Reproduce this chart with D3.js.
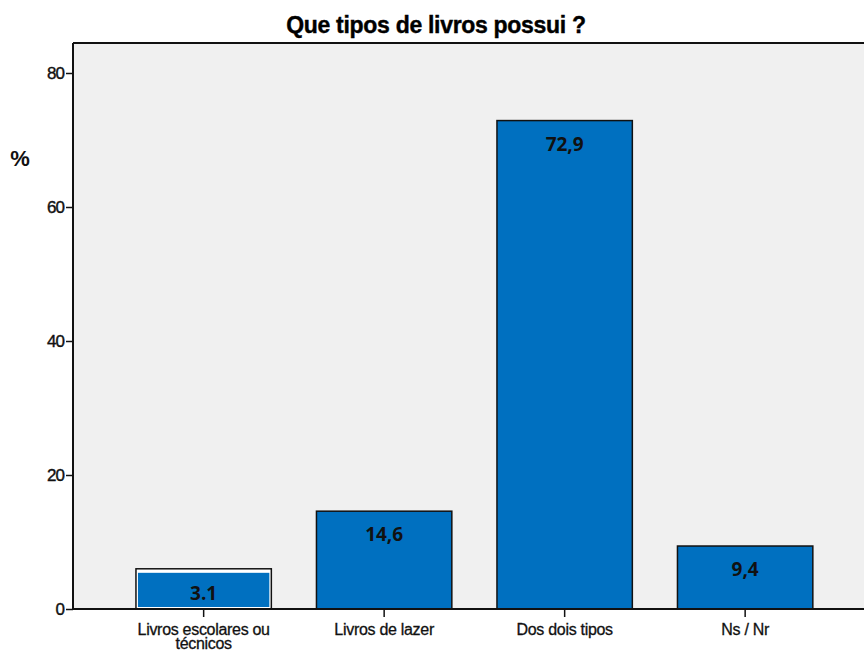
<!DOCTYPE html>
<html lang="pt">
<head>
  <meta charset="utf-8" />
  <title>Que tipos de livros possui ?</title>
  <style>
    body { margin: 0; background: #fff; }
    .tick text { font-family: "Liberation Sans", Arial, sans-serif; }
  </style>
  <script src="https://d3js.org/d3.v7.min.js"></script>
</head>
<body>
<script>
// chart values
const categories = [["Livros escolares ou", "técnicos"], ["Livros de lazer"], ["Dos dois tipos"], ["Ns / Nr"]];
const barValues  = [6.0, 14.6, 72.9, 9.4];
const barLabels  = ["3.1", "14,6", "72,9", "9,4"];
const patchValue = 5.4;      // blue block painted inside the first bar
const yTicks     = [0, 20, 40, 60, 80];

const W = 864, H = 652;
const plot = {left: 73, top: 43, right: 864, bottom: 609};

const svg = d3.select("body").append("svg")
  .attr("width", W).attr("height", H);

// plot background
svg.append("rect")
  .attr("x", plot.left).attr("y", plot.top)
  .attr("width", plot.right - plot.left).attr("height", plot.bottom - plot.top)
  .attr("fill", "#f0f0f0");

const x = d3.scaleBand()
  .domain(d3.range(categories.length))
  .range([113.4, 835.4])
  .paddingInner(0.25).paddingOuter(0.125);

const y = d3.scaleLinear().domain([0, 80]).range([plot.bottom, 73]);

// bars
svg.selectAll("rect.bar")
  .data(barValues)
  .join("rect")
    .attr("class", "bar")
    .attr("x", (d, i) => x(i))
    .attr("y", d => y(d))
    .attr("width", x.bandwidth())
    .attr("height", d => y(0) - y(d))
    .attr("fill", (d, i) => i === 0 ? "#ffffff" : "#0070c0")
    .attr("stroke", "#111")
    .attr("stroke-width", 1.5);

// the blue block over the first bar
svg.append("rect")
  .attr("x", x(0) + 2).attr("y", y(patchValue))
  .attr("width", x.bandwidth() - 4)
  .attr("height", y(0) - y(patchValue) - 2)
  .attr("fill", "#0070c0");

// value labels
svg.selectAll("text.val")
  .data(barValues)
  .join("text")
    .attr("class", "val")
    .attr("x", (d, i) => x(i) + x.bandwidth() / 2)
    .attr("y", (d, i) => i === 0 ? y(patchValue) + 27 : y(d) + 30)
    .attr("text-anchor", "middle")
    .attr("font-family", "'Open Sans', 'Noto Sans', sans-serif")
    .attr("font-weight", "bold")
    .attr("font-size", 19)
    .attr("fill", "#111")
    .text((d, i) => barLabels[i]);

// y axis
const yAxis = svg.append("g")
  .attr("transform", `translate(${plot.left},0)`)
  .call(d3.axisLeft(y).tickValues(yTicks).tickSize(7).tickPadding(2).tickFormat(d3.format("d")));
yAxis.select(".domain").attr("d", `M0,${plot.top}V${plot.bottom}`).attr("stroke", "#111").attr("stroke-width", 2);
yAxis.selectAll(".tick line").attr("stroke", "#111").attr("stroke-width", 1.5);
yAxis.selectAll(".tick text")
  .attr("font-size", 17).attr("fill", "#111").attr("letter-spacing", -1)
  .attr("stroke", "#111").attr("stroke-width", 0.4);

// x axis
const xAxis = svg.append("g")
  .attr("transform", `translate(0,${plot.bottom})`)
  .call(d3.axisBottom(x).tickSize(8).tickFormat(""));
xAxis.select(".domain").attr("d", `M${plot.left},0H${plot.right}`).attr("stroke", "#111").attr("stroke-width", 2);
xAxis.selectAll(".tick line").attr("stroke", "#111").attr("stroke-width", 1.5);

svg.selectAll("text.cat")
  .data(categories)
  .join("text")
    .attr("class", "cat")
    .attr("x", (d, i) => x(i) + x.bandwidth() / 2)
    .attr("y", 635)
    .attr("text-anchor", "middle")
    .attr("font-family", "'Liberation Sans', Arial, sans-serif")
    .attr("font-size", 16)
    .attr("letter-spacing", -0.3)
    .attr("fill", "#111")
    .attr("stroke", "#111").attr("stroke-width", 0.3)
    .selectAll("tspan")
    .data(d => d)
    .join("tspan")
      .attr("x", function() { return this.parentNode.getAttribute("x"); })
      .attr("dy", (d, j) => j === 0 ? 0 : 13.5)
      .text(d => d);

// top border
svg.append("line")
  .attr("x1", plot.left).attr("x2", plot.right)
  .attr("y1", plot.top).attr("y2", plot.top)
  .attr("stroke", "#111").attr("stroke-width", 2);

// y title
svg.append("text")
  .attr("x", 20).attr("y", 166)
  .attr("text-anchor", "middle")
  .attr("font-family", "'Liberation Sans', Arial, sans-serif")
  .attr("font-weight", "bold")
  .attr("font-size", 22)
  .attr("fill", "#111")
  .text("%");

// title
svg.append("text")
  .attr("x", 436).attr("y", 33)
  .attr("text-anchor", "middle")
  .attr("font-family", "'Liberation Sans', Arial, sans-serif")
  .attr("font-weight", "bold")
  .attr("font-size", 23)
  .attr("letter-spacing", -0.3)
  .attr("fill", "#000")
  .attr("stroke", "#000").attr("stroke-width", 0.4)
  .text("Que tipos de livros possui ?");
</script>
</body>
</html>
